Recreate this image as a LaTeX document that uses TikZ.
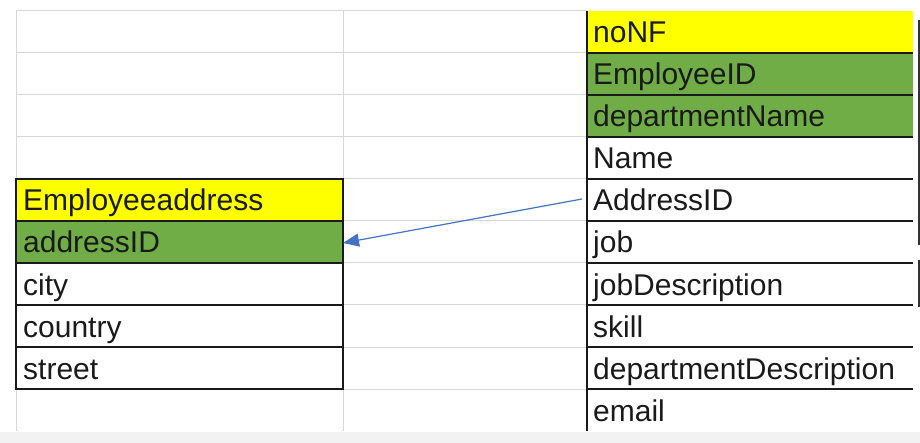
\documentclass[tikz,border=0pt]{standalone}
\usepackage{fontspec}
\setmainfont{Liberation Sans}
\usetikzlibrary{arrows.meta}
\definecolor{xlyellow}{HTML}{FFFF00}
\definecolor{xlgreen}{HTML}{70AD47}
\definecolor{gridgray}{HTML}{D6D6D6}
\definecolor{arrowblue}{HTML}{4472C4}
\definecolor{bandgray}{HTML}{F2F2F2}
\definecolor{inkc}{HTML}{1A1A1A}
\begin{document}
\begin{tikzpicture}[x=1pt,y=-1pt,
  cell/.style={minimum width=#1, minimum height=42pt, inner sep=0pt, outer sep=0pt, anchor=north west, draw=none},
  txt/.style={anchor=base west, inner sep=0pt, font=\fontsize{30}{31}\selectfont, text=inkc},
  gridline/.style={draw=gridgray, line width=1pt},
  border/.style={draw=inkc, line width=1.3pt},
  edgeline/.style={draw=black!80, line width=1.2pt},
  link/.style={draw=arrowblue, line width=1.2pt, -{Triangle[length=16pt,width=13pt]}}]
\useasboundingbox (0,0) rectangle (920,443);
\fill[bandgray] (0,432) rectangle (920,443);
% spreadsheet grid
\foreach \y in {11,53,95,137,179} \draw[gridline] (16,\y) -- (587,\y);
\foreach \y in {221,263,305,347,389} \draw[gridline] (343,\y) -- (587,\y);
\draw[gridline] (16,11) -- (16,431);
\draw[gridline] (343,11) -- (343,431);
% left table cells
\node[cell=327pt, fill=xlyellow] (la0) at (16,179) {};
\node[cell=327pt, fill=xlgreen]  (la1) at (16,221) {};
\node[cell=327pt] (la2) at (16,263) {};
\node[cell=327pt] (la3) at (16,305) {};
\node[cell=327pt] (la4) at (16,347) {};
% right table cells
\node[cell=326pt, fill=xlyellow] (r0) at (587,11) {};
\node[cell=326pt, fill=xlgreen]  (r1) at (587,53) {};
\node[cell=326pt, fill=xlgreen]  (r2) at (587,95) {};
\node[cell=326pt] (r3) at (587,137) {};
\node[cell=326pt] (r4) at (587,179) {};
\node[cell=326pt] (r5) at (587,221) {};
\node[cell=326pt] (r6) at (587,263) {};
\node[cell=326pt] (r7) at (587,305) {};
\node[cell=326pt] (r8) at (587,347) {};
\node[cell=326pt] (r9) at (587,389) {};
% borders left table
\draw[border] (la0.north west) rectangle (la4.south east);
\foreach \c in {la0,la1,la2,la3} \draw[border] (\c.south west) -- (\c.south east);
% borders right table
\draw[border] (r0.north west) -- (r9.south west);
\foreach \c in {r0,r1,r2,r3,r4,r5,r6,r7,r8} \draw[border] (\c.south west) -- (\c.south east);
% texts
\node[txt] (tla0) at ([xshift=7pt,yshift=10pt]la0.south west) {Employeeaddress};
\node[txt] (tla1) at ([xshift=7pt,yshift=10pt]la1.south west) {addressID};
\node[txt] (tla2) at ([xshift=7pt,yshift=10pt]la2.south west) {city};
\node[txt] (tla3) at ([xshift=7pt,yshift=10pt]la3.south west) {country};
\node[txt] (tla4) at ([xshift=7pt,yshift=10pt]la4.south west) {street};
\node[txt] (tr0) at ([xshift=6pt,yshift=10pt]r0.south west) {noNF};
\node[txt] (tr1) at ([xshift=6pt,yshift=10pt]r1.south west) {EmployeeID};
\node[txt] (tr2) at ([xshift=6pt,yshift=10pt]r2.south west) {departmentName};
\node[txt] (tr3) at ([xshift=6pt,yshift=10pt]r3.south west) {Name};
\node[txt] (tr4) at ([xshift=6pt,yshift=10pt]r4.south west) {AddressID};
\node[txt] (tr5) at ([xshift=6pt,yshift=10pt]r5.south west) {job};
\node[txt] (tr6) at ([xshift=6pt,yshift=10pt]r6.south west) {jobDescription};
\node[txt] (tr7) at ([xshift=6pt,yshift=10pt]r7.south west) {skill};
\node[txt] (tr8) at ([xshift=6pt,yshift=10pt]r8.south west) {departmentDescription};
\node[txt] (tr9) at ([xshift=6pt,yshift=10pt]r9.south west) {email};
% window edge at right
\draw[edgeline] (919,20) -- (919,245);
\draw[edgeline] (919,260) -- (919,307);
% foreign key arrow
\draw[link] ([xshift=-5pt,yshift=1pt]r4.west) -- ([yshift=-1pt]la1.east);
\end{tikzpicture}
\end{document}
